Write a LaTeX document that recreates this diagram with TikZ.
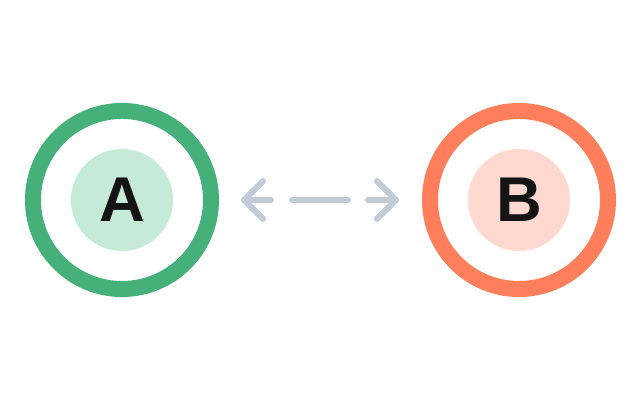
\documentclass[tikz,border=0pt]{standalone}
\usepackage{fontspec}
\newfontfamily\letterfont{Liberation Sans}
\usepackage{tikz}
\usetikzlibrary{positioning}
\definecolor{ringgreen}{RGB}{69,176,122}
\definecolor{coregreen}{RGB}{197,235,216}
\definecolor{ringorange}{RGB}{255,127,92}
\definecolor{coreorange}{RGB}{255,217,207}
\definecolor{linkgray}{RGB}{195,202,216}
\definecolor{ink}{RGB}{20,20,20}

\begin{document}
\begin{tikzpicture}[
    x=0.025cm, y=0.025cm,
    ring/.style={circle, draw, line width=0.4cm, minimum size=4.45cm, inner sep=0pt},
    core/.style={circle, minimum size=2.55cm, inner sep=0pt, text=ink, font=\letterfont\bfseries\fontsize{45}{45}\selectfont},
    arr/.style={draw=linkgray, line width=0.15cm, line cap=round, line join=round}
]
\useasboundingbox (0,0) rectangle (640,400);

\node[ring, draw=ringgreen] (aring) at (122,200) {};
\node[core, fill=coregreen] (a) at (aring.center) {A};

\node[ring, draw=ringorange] (bring) at (519,200) {};
\node[core, fill=coreorange] (b) at (bring.center) {B};

\coordinate[right=0.625cm of aring.east] (ltip);
\coordinate[left=0.65cm of bring.west] (rtip);

\draw[arr] (ltip) ++(19,19) -- (ltip) -- ++(19,-19);
\draw[arr] (ltip) -- ++(27,0);
\draw[arr] (ltip) ++(48,0) -- ++(56,0);
\draw[arr] (rtip) ++(-19,19) -- (rtip) -- ++(-19,-19);
\draw[arr] (rtip) -- ++(-28,0);

\end{tikzpicture}
\end{document}
